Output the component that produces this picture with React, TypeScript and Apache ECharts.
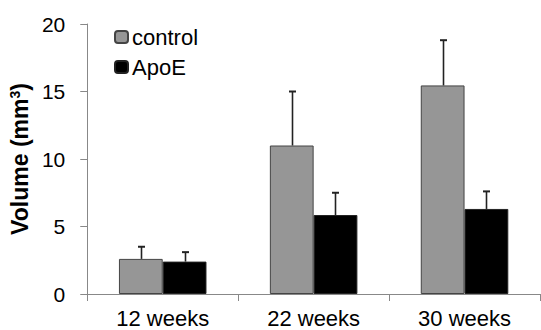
import React, { useEffect, useRef } from "react";
import * as echarts from "echarts";

const categories = ["12 weeks", "22 weeks", "30 weeks"];
const controlValues = [2.6, 11.0, 15.45];
const controlErrors = [0.9, 4.0, 3.35];
const apoeValues = [2.4, 5.85, 6.3];
const apoeErrors = [0.7, 1.65, 1.3];
const yTicks = [0, 5, 10, 15, 20];

const BAR_FRAC = 44 / 152;
const FONT = "'Liberation Sans', Arial, sans-serif";

function errSeries(name: string, vals: number[], errs: number[], side: number) {
  return {
    type: "custom",
    name: name + "-err",
    data: vals.map((v, i) => [i, v, errs[i]]),
    encode: { x: 0, y: 1 },
    z: 5,
    renderItem: (params: any, api: any) => {
      const i = api.value(0);
      const v = api.value(1);
      const e = api.value(2);
      const bw = api.size([1, 0])[0] * BAR_FRAC;
      const p0 = api.coord([i, v]);
      const p1 = api.coord([i, v + e]);
      const x = Math.round(p0[0] + (side * bw) / 2) + 0.5;
      return {
        type: "group",
        children: [
          { type: "line", shape: { x1: x, y1: p0[1], x2: x, y2: p1[1] }, style: { stroke: "#222", lineWidth: 1.6 } },
          { type: "line", shape: { x1: x - 3.5, y1: p1[1], x2: x + 3.5, y2: p1[1] }, style: { stroke: "#222", lineWidth: 2 } },
        ],
      };
    },
  };
}

export default function App() {
  const ref = useRef<HTMLDivElement>(null);
  useEffect(() => {
    const chart = echarts.init(ref.current!, null, { renderer: "svg" });
    chart.setOption({
      animation: false,
      backgroundColor: "#fff",
      textStyle: { fontFamily: FONT },
      grid: { left: 84, right: 1, top: 24, bottom: 36, containLabel: false },
      legend: {
        data: ["control", "ApoE"],
        orient: "vertical",
        left: 109,
        top: 21,
        itemWidth: 13,
        itemHeight: 12,
        itemGap: 8,
        textStyle: { fontSize: 22, color: "#000", fontFamily: FONT, padding: [0, 0, 0, -1] },
      },
      xAxis: {
        type: "category",
        data: categories,
        axisLine: { lineStyle: { color: "#888", width: 1 } },
        axisTick: { show: true, length: 7, lineStyle: { color: "#888" } },
        axisLabel: { fontSize: 22, color: "#000", margin: 13, fontFamily: FONT },
      },
      yAxis: {
        type: "value",
        min: yTicks[0],
        max: yTicks[yTicks.length - 1],
        interval: 5,
        name: "{a|Volume (mm}{s|3}{a|)}",
        nameLocation: "middle",
        nameGap: 47,
        nameTextStyle: {
          fontSize: 23,
          fontWeight: "bold",
          color: "#000",
          fontFamily: FONT,
          rich: {
            a: { fontSize: 23, fontWeight: "bold", color: "#000", fontFamily: FONT },
            s: { fontSize: 14, fontWeight: "bold", color: "#000", fontFamily: FONT, verticalAlign: "top", padding: [0, 0, 8, 0] },
          },
        },
        axisLine: { show: true, lineStyle: { color: "#888", width: 1 } },
        axisTick: { show: true, length: 7, lineStyle: { color: "#888" } },
        axisLabel: { fontSize: 21, color: "#000", margin: 22, fontFamily: FONT },
        splitLine: { show: false },
      },
      series: [
        {
          type: "bar",
          name: "control",
          data: controlValues,
          barGap: "0%",
          barCategoryGap: "42%",
          itemStyle: { color: "#969696", borderColor: "#444", borderWidth: 1 },
        },
        {
          type: "bar",
          name: "ApoE",
          data: apoeValues,
          barGap: "0%",
          barCategoryGap: "42%",
          itemStyle: { color: "#000", borderColor: "#222", borderWidth: 1 },
        },
        errSeries("control", controlValues, controlErrors, -1),
        errSeries("ApoE", apoeValues, apoeErrors, 1),
      ],
    });
    return () => chart.dispose();
  }, []);
  return <div ref={ref} style={{ width: 541, height: 330, position: "absolute", left: 0, top: 0 }} />;
}
